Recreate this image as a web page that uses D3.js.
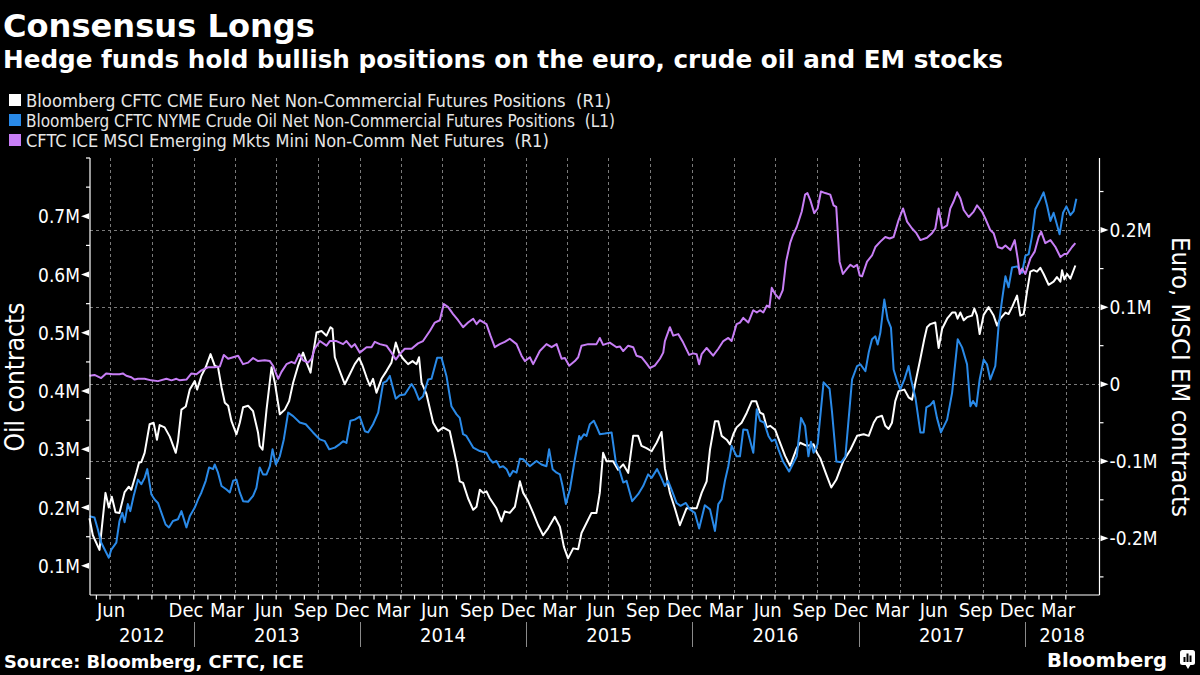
<!DOCTYPE html>
<html><head><meta charset="utf-8">
<script src="https://cdn.jsdelivr.net/npm/d3@7"></script>
<style>
html,body{margin:0;padding:0;background:#000;}
svg{display:block;}
text{white-space:pre;}
</style></head>
<body>
<svg id="chart" width="1200" height="675"></svg>
<script>
// ---------- DATA (decimal year, thousands of contracts) ----------
const euroData = [[2012.374,-174],[2012.394,-196],[2012.434,-215],[2012.470,-141],[2012.490,-160],[2012.508,-146],[2012.530,-166],[2012.554,-167],[2012.585,-140],[2012.610,-133],[2012.625,-137],[2012.655,-115],[2012.671,-102],[2012.685,-101],[2012.705,-89],[2012.735,-52],[2012.759,-50],[2012.779,-72],[2012.795,-53],[2012.825,-56],[2012.856,-68],[2012.892,-89],[2012.905,-74],[2012.926,-33],[2012.952,-29],[2012.976,-7],[2013.006,4],[2013.020,-7],[2013.046,11],[2013.072,22],[2013.101,39],[2013.126,24],[2013.146,22],[2013.167,-4],[2013.187,-24],[2013.207,-28],[2013.227,-48],[2013.257,-65],[2013.277,-50],[2013.297,-30],[2013.327,-28],[2013.357,-35],[2013.387,-63],[2013.397,-80],[2013.414,-85],[2013.438,-33],[2013.468,22],[2013.488,2],[2013.518,-39],[2013.548,-33],[2013.574,-22],[2013.598,2],[2013.628,24],[2013.658,41],[2013.679,28],[2013.703,15],[2013.718,39],[2013.739,67],[2013.769,69],[2013.799,63],[2013.823,74],[2013.835,72],[2013.849,35],[2013.879,17],[2013.909,0],[2013.939,13],[2013.969,26],[2013.995,34],[2014.016,24],[2014.040,9],[2014.060,-2],[2014.079,7],[2014.100,-11],[2014.130,7],[2014.160,17],[2014.190,28],[2014.216,54],[2014.236,41],[2014.260,33],[2014.290,26],[2014.317,30],[2014.341,26],[2014.356,35],[2014.371,2],[2014.401,-13],[2014.441,-50],[2014.471,-61],[2014.501,-56],[2014.541,-61],[2014.558,-78],[2014.582,-102],[2014.601,-126],[2014.621,-128],[2014.651,-148],[2014.682,-163],[2014.702,-159],[2014.722,-137],[2014.742,-141],[2014.762,-139],[2014.782,-148],[2014.822,-161],[2014.852,-178],[2014.872,-165],[2014.902,-167],[2014.933,-159],[2014.963,-126],[2014.983,-141],[2015.013,-152],[2015.043,-167],[2015.073,-183],[2015.103,-196],[2015.133,-187],[2015.173,-172],[2015.204,-185],[2015.228,-211],[2015.253,-226],[2015.284,-213],[2015.314,-214],[2015.334,-193],[2015.364,-180],[2015.394,-167],[2015.424,-167],[2015.444,-141],[2015.464,-89],[2015.485,-100],[2015.524,-100],[2015.554,-111],[2015.585,-104],[2015.615,-115],[2015.645,-67],[2015.675,-67],[2015.695,-80],[2015.725,-83],[2015.756,-87],[2015.786,-76],[2015.816,-62],[2015.836,-109],[2015.866,-141],[2015.896,-161],[2015.926,-183],[2015.966,-161],[2016.027,-161],[2016.057,-141],[2016.087,-126],[2016.107,-85],[2016.137,-48],[2016.157,-48],[2016.177,-67],[2016.207,-72],[2016.227,-78],[2016.247,-65],[2016.267,-56],[2016.297,-50],[2016.328,-37],[2016.358,-22],[2016.384,-22],[2016.408,-37],[2016.427,-39],[2016.448,-56],[2016.468,-54],[2016.498,-59],[2016.528,-76],[2016.558,-93],[2016.588,-106],[2016.628,-83],[2016.648,-76],[2016.689,-80],[2016.729,-78],[2016.749,-89],[2016.769,-96],[2016.805,-117],[2016.835,-134],[2016.865,-124],[2016.907,-100],[2016.950,-85],[2016.990,-67],[2017.030,-65],[2017.060,-67],[2017.090,-50],[2017.110,-43],[2017.140,-41],[2017.160,-54],[2017.180,-58],[2017.200,-50],[2017.220,-22],[2017.240,-9],[2017.275,-7],[2017.300,-17],[2017.321,-20],[2017.341,2],[2017.371,33],[2017.395,59],[2017.411,74],[2017.431,78],[2017.461,80],[2017.481,47],[2017.502,72],[2017.532,85],[2017.562,93],[2017.582,93],[2017.595,85],[2017.612,93],[2017.632,83],[2017.652,87],[2017.682,89],[2017.696,98],[2017.712,89],[2017.728,65],[2017.752,90],[2017.782,100],[2017.812,89],[2017.833,76],[2017.852,85],[2017.883,93],[2017.902,91],[2017.923,100],[2017.953,115],[2017.973,89],[2017.993,91],[2018.013,120],[2018.033,146],[2018.053,148],[2018.073,146],[2018.093,151],[2018.113,143],[2018.143,129],[2018.173,133],[2018.193,139],[2018.214,133],[2018.224,148],[2018.238,136],[2018.254,143],[2018.274,137],[2018.304,154]];

const oilData = [[2012.374,185],[2012.404,183],[2012.424,163],[2012.444,140],[2012.490,114],[2012.505,128],[2012.535,140],[2012.554,177],[2012.571,191],[2012.585,175],[2012.604,206],[2012.619,194],[2012.639,220],[2012.665,248],[2012.685,240],[2012.705,251],[2012.721,266],[2012.745,223],[2012.765,214],[2012.785,208],[2012.806,191],[2012.831,171],[2012.851,166],[2012.875,177],[2012.905,180],[2012.926,194],[2012.956,166],[2012.976,185],[2013.006,200],[2013.026,214],[2013.046,226],[2013.072,246],[2013.092,269],[2013.116,266],[2013.126,274],[2013.146,260],[2013.167,237],[2013.197,231],[2013.217,226],[2013.237,246],[2013.257,248],[2013.277,226],[2013.297,211],[2013.327,210],[2013.357,220],[2013.377,234],[2013.397,269],[2013.417,257],[2013.438,257],[2013.458,271],[2013.474,300],[2013.494,274],[2013.518,288],[2013.542,317],[2013.568,363],[2013.598,357],[2013.638,346],[2013.674,343],[2013.718,329],[2013.759,317],[2013.789,314],[2013.815,300],[2013.849,303],[2013.879,309],[2013.899,314],[2013.919,311],[2013.943,349],[2013.969,351],[2013.999,356],[2014.030,331],[2014.049,329],[2014.079,343],[2014.110,363],[2014.140,414],[2014.160,417],[2014.180,426],[2014.216,387],[2014.240,393],[2014.270,394],[2014.311,412],[2014.331,403],[2014.356,385],[2014.380,391],[2014.411,420],[2014.431,421],[2014.465,457],[2014.491,457],[2014.521,426],[2014.551,374],[2014.582,360],[2014.601,354],[2014.621,326],[2014.641,323],[2014.682,303],[2014.722,297],[2014.762,294],[2014.782,283],[2014.802,277],[2014.822,280],[2014.842,269],[2014.862,271],[2014.883,266],[2014.902,254],[2014.922,263],[2014.943,260],[2014.963,284],[2014.983,283],[2015.003,277],[2015.023,271],[2015.063,280],[2015.093,274],[2015.123,271],[2015.139,300],[2015.160,266],[2015.184,260],[2015.204,257],[2015.220,237],[2015.240,206],[2015.264,231],[2015.294,283],[2015.320,323],[2015.328,317],[2015.348,326],[2015.364,323],[2015.384,343],[2015.408,349],[2015.428,337],[2015.444,326],[2015.474,327],[2015.515,329],[2015.541,277],[2015.561,266],[2015.585,243],[2015.605,246],[2015.639,211],[2015.675,223],[2015.705,237],[2015.735,257],[2015.756,251],[2015.789,266],[2015.810,254],[2015.836,237],[2015.855,246],[2015.876,231],[2015.906,208],[2015.930,203],[2015.962,208],[2015.986,197],[2016.016,191],[2016.042,164],[2016.076,204],[2016.107,197],[2016.137,160],[2016.157,206],[2016.177,214],[2016.197,246],[2016.217,271],[2016.237,306],[2016.267,288],[2016.287,288],[2016.307,334],[2016.331,333],[2016.367,294],[2016.388,369],[2016.408,349],[2016.432,346],[2016.458,323],[2016.478,314],[2016.498,317],[2016.518,300],[2016.546,279],[2016.582,262],[2016.628,288],[2016.654,354],[2016.678,340],[2016.698,288],[2016.713,313],[2016.729,294],[2016.753,309],[2016.789,415],[2016.825,404],[2016.840,363],[2016.866,279],[2016.896,278],[2016.920,288],[2016.960,420],[2016.990,443],[2017.010,446],[2017.040,434],[2017.060,466],[2017.080,489],[2017.100,494],[2017.114,480],[2017.130,500],[2017.154,557],[2017.174,523],[2017.194,509],[2017.210,437],[2017.231,417],[2017.250,403],[2017.275,420],[2017.300,443],[2017.315,420],[2017.341,389],[2017.371,329],[2017.391,329],[2017.407,372],[2017.431,376],[2017.451,383],[2017.471,354],[2017.495,329],[2017.532,351],[2017.562,397],[2017.596,489],[2017.622,475],[2017.652,446],[2017.672,374],[2017.688,383],[2017.708,374],[2017.728,420],[2017.752,454],[2017.772,446],[2017.792,420],[2017.822,443],[2017.842,512],[2017.863,557],[2017.883,597],[2017.902,578],[2017.923,612],[2017.953,614],[2017.983,603],[2018.003,632],[2018.023,635],[2018.043,666],[2018.063,712],[2018.093,729],[2018.113,741],[2018.134,718],[2018.154,692],[2018.173,706],[2018.193,686],[2018.209,669],[2018.230,706],[2018.250,717],[2018.274,702],[2018.294,709],[2018.310,730]];

const emData = [[2012.374,11],[2012.404,12],[2012.444,8],[2012.474,14],[2012.514,13],[2012.554,13],[2012.574,14],[2012.595,11],[2012.625,9],[2012.645,6],[2012.665,7],[2012.705,7],[2012.745,5],[2012.785,4],[2012.836,7],[2012.866,5],[2012.896,7],[2012.916,5],[2012.956,6],[2012.986,14],[2013.016,13],[2013.046,18],[2013.086,22],[2013.126,22],[2013.157,23],[2013.181,38],[2013.207,33],[2013.237,35],[2013.267,37],[2013.297,26],[2013.327,28],[2013.357,34],[2013.387,30],[2013.427,31],[2013.458,30],[2013.477,24],[2013.508,7],[2013.528,16],[2013.558,26],[2013.588,29],[2013.608,27],[2013.634,39],[2013.658,31],[2013.688,28],[2013.709,33],[2013.728,46],[2013.759,56],[2013.799,50],[2013.819,56],[2013.859,56],[2013.899,52],[2013.919,56],[2013.949,48],[2013.969,52],[2013.999,41],[2014.040,48],[2014.070,48],[2014.090,55],[2014.120,52],[2014.160,50],[2014.190,41],[2014.216,32],[2014.240,39],[2014.270,46],[2014.311,46],[2014.350,53],[2014.380,56],[2014.421,69],[2014.451,80],[2014.481,83],[2014.505,104],[2014.531,100],[2014.561,91],[2014.591,83],[2014.621,74],[2014.651,80],[2014.682,85],[2014.702,78],[2014.722,83],[2014.762,78],[2014.786,63],[2014.812,48],[2014.842,52],[2014.872,55],[2014.902,59],[2014.943,52],[2014.973,37],[2014.993,30],[2015.023,35],[2015.043,26],[2015.083,43],[2015.123,52],[2015.154,48],[2015.184,52],[2015.214,33],[2015.234,34],[2015.260,24],[2015.294,30],[2015.314,35],[2015.334,50],[2015.374,52],[2015.424,52],[2015.444,60],[2015.464,51],[2015.504,54],[2015.545,48],[2015.565,49],[2015.585,43],[2015.615,50],[2015.645,48],[2015.665,37],[2015.695,35],[2015.725,27],[2015.745,21],[2015.775,24],[2015.806,33],[2015.826,41],[2015.836,56],[2015.866,74],[2015.886,63],[2015.916,65],[2015.946,54],[2015.982,38],[2016.006,40],[2016.027,39],[2016.042,26],[2016.057,39],[2016.087,47],[2016.126,37],[2016.157,46],[2016.187,56],[2016.217,60],[2016.237,56],[2016.267,78],[2016.287,80],[2016.307,86],[2016.337,80],[2016.367,96],[2016.388,93],[2016.408,96],[2016.427,93],[2016.448,102],[2016.464,100],[2016.478,125],[2016.498,117],[2016.522,111],[2016.544,122],[2016.564,159],[2016.588,183],[2016.604,193],[2016.628,204],[2016.658,224],[2016.678,246],[2016.692,248],[2016.709,239],[2016.733,222],[2016.753,228],[2016.773,250],[2016.799,248],[2016.829,246],[2016.849,232],[2016.865,230],[2016.885,159],[2016.905,143],[2016.930,150],[2016.950,155],[2016.969,152],[2016.990,155],[2017.006,141],[2017.020,140],[2017.050,159],[2017.080,167],[2017.100,178],[2017.130,185],[2017.160,191],[2017.186,189],[2017.210,191],[2017.240,213],[2017.267,228],[2017.291,211],[2017.321,202],[2017.347,196],[2017.371,187],[2017.411,190],[2017.441,196],[2017.461,202],[2017.481,228],[2017.502,202],[2017.532,206],[2017.551,228],[2017.571,237],[2017.592,249],[2017.612,241],[2017.632,226],[2017.662,217],[2017.692,224],[2017.712,232],[2017.742,224],[2017.762,215],[2017.792,200],[2017.812,196],[2017.837,178],[2017.863,176],[2017.883,180],[2017.913,174],[2017.939,187],[2017.957,163],[2017.969,143],[2017.983,150],[2018.003,143],[2018.033,163],[2018.059,172],[2018.083,191],[2018.098,198],[2018.123,183],[2018.154,187],[2018.184,178],[2018.214,165],[2018.238,169],[2018.254,169],[2018.284,178],[2018.304,183]];

const seriesNames = [
  "Bloomberg CFTC CME Euro Net Non-Commercial Futures Positions  (R1)",
  "Bloomberg CFTC NYME Crude Oil Net Non-Commercial Futures Positions  (L1)",
  "CFTC ICE MSCI Emerging Mkts Mini Non-Comm Net Futures  (R1)"
];
const seriesColors = ["#ffffff", "#2a8ae8", "#c77ef5"];
const leftTicks = [100, 200, 300, 400, 500, 600, 700];
const leftTickLabels = ["0.1M","0.2M","0.3M","0.4M","0.5M","0.6M","0.7M"];
const leftMinor = [150, 250, 350, 450, 550, 650, 750, 800];
const rightTicks = [-200, -100, 0, 100, 200];
const rightTickLabels = ["-0.2M","-0.1M","0","0.1M","0.2M"];
const rightMinor = [-250, -150, -50, 50, 150, 250];
const monthNames = ["Jan","Feb","Mar","Apr","May","Jun","Jul","Aug","Sep","Oct","Nov","Dec"];
const titleText = "Consensus Longs";
const subtitleText = "Hedge funds hold bullish positions on the euro, crude oil and EM stocks";
const sourceText = "Source: Bloomberg, CFTC, ICE";
const leftTitle = "Oil contracts";
const rightTitle = "Euro, MSCI EM contracts";
const xStart = new Date(2012, 4, 18), xEnd = new Date(2018, 5, 14), dataEnd = new Date(2018, 3, 25);

// ---------- helpers ----------
function yrToDate(y){const yr=Math.floor(y);const s=new Date(yr,0,1),e=new Date(yr+1,0,1);return new Date(+s+(y-yr)*(e-s));}
const FONT = "'DejaVu Sans Condensed','DejaVu Sans',sans-serif";
const svg = d3.select("#chart");
svg.append("rect").attr("width",1200).attr("height",675).attr("fill","#000");
function fit(sel, w){const l=sel.node().getComputedTextLength();const fs=parseFloat(sel.attr("font-size"));sel.attr("font-size",(fs*w/l).toFixed(2));return sel;}

const L=90, R=1099.5, T=158, B=595;
const x = d3.scaleTime().domain([xStart,xEnd]).range([L,R]);
const yL = d3.scaleLinear().domain([50,800]).range([B,T]);
const yR = d3.scaleLinear().domain([-273.5,293.5]).range([B,T]);

// ---------- titles ----------
fit(svg.append("text").attr("x",3).attr("y",36.5).attr("fill","#fff").attr("font-family","'DejaVu Sans',sans-serif").attr("font-weight","bold").attr("font-size",33).text(titleText),312);
fit(svg.append("text").attr("x",3).attr("y",68).attr("fill","#fff").attr("font-family","'DejaVu Sans',sans-serif").attr("font-weight","bold").attr("font-size",25).text(subtitleText),1000);

// legend
const legW=[585,589,523];
seriesNames.forEach((n,i)=>{
  const cy = 100 + i*20;
  svg.append("rect").attr("x",9).attr("y",cy-6).attr("width",12).attr("height",12).attr("fill",seriesColors[i]);
  fit(svg.append("text").attr("x",26).attr("y",cy+6.5).attr("fill","#e6e6e6").attr("font-family",FONT).attr("font-size",17).text(n),legW[i]);
});

// ---------- grid ----------
const grid = svg.append("g").attr("stroke","#7a7a7a").attr("stroke-width",1).attr("stroke-dasharray","3,3");
rightTicks.forEach(v=>grid.append("line").attr("x1",L).attr("x2",R).attr("y1",Math.round(yR(v))+0.5).attr("y2",Math.round(yR(v))+0.5));
const quarters = d3.timeMonth.every(3).range(new Date(2012,6,1), dataEnd).filter(d=>d.getMonth()%3===0);
quarters.forEach(d=>{const xx=Math.round(x(d))+0.5;grid.append("line").attr("x1",xx).attr("x2",xx).attr("y1",T).attr("y2",B);});

// ---------- lines ----------
const lineL = d3.line().x(d=>x(yrToDate(d[0]))).y(d=>yL(d[1]));
const lineR = d3.line().x(d=>x(yrToDate(d[0]))).y(d=>yR(d[1]));
svg.append("path").datum(euroData).attr("d",lineR).attr("fill","none").attr("stroke",seriesColors[0]).attr("stroke-width",2).attr("stroke-linejoin","round");
svg.append("path").datum(oilData).attr("d",lineL).attr("fill","none").attr("stroke",seriesColors[1]).attr("stroke-width",2).attr("stroke-linejoin","round");
svg.append("path").datum(emData).attr("d",lineR).attr("fill","none").attr("stroke",seriesColors[2]).attr("stroke-width",2).attr("stroke-linejoin","round");

// ---------- axes ----------
const ax = svg.append("g").attr("stroke","#fff").attr("stroke-width",1.2);
ax.append("line").attr("x1",L).attr("x2",L).attr("y1",T).attr("y2",B);
ax.append("line").attr("x1",R).attr("x2",R).attr("y1",T).attr("y2",B);
ax.append("line").attr("x1",L).attr("x2",R).attr("y1",B).attr("y2",B);
leftMinor.forEach(v=>ax.append("line").attr("x1",L-4).attr("x2",L).attr("y1",yL(v)).attr("y2",yL(v)));
rightMinor.forEach(v=>ax.append("line").attr("x1",R).attr("x2",R+4).attr("y1",yR(v)).attr("y2",yR(v)));
leftTicks.forEach((v,i)=>{
  const yy=yL(v);
  svg.append("path").attr("d",`M${L-1},${yy-3}L${L-9},${yy}L${L-1},${yy+3}Z`).attr("fill","#fff");
  svg.append("text").attr("x",L-10).attr("y",yy+7).attr("text-anchor","end").attr("fill","#fff").attr("font-family",FONT).attr("font-size",19).text(leftTickLabels[i]);
});
rightTicks.forEach((v,i)=>{
  const yy=yR(v);
  svg.append("path").attr("d",`M${R+1},${yy-3}L${R+9},${yy}L${R+1},${yy+3}Z`).attr("fill","#fff");
  svg.append("text").attr("x",R+10).attr("y",yy+7).attr("fill","#fff").attr("font-family",FONT).attr("font-size",19).text(rightTickLabels[i]);
});
// monthly ticks
d3.timeMonth.range(new Date(2012,5,1), dataEnd).forEach(d=>ax.append("line").attr("x1",x(d)).attr("x2",x(d)).attr("y1",B).attr("y2",B+4.5));

// month labels (quarter months, centred mid-month; first clamped inside, overlapping ones dropped)
let prevRight=-1e9;
d3.timeMonth.range(new Date(2012,0,1), xEnd).filter(d=>d.getMonth()%3===2).forEach(d=>{
  const mid = new Date(d.getFullYear(), d.getMonth(), 15);
  if (mid < xStart || mid > xEnd) return;
  const t = svg.append("text").attr("y",616.5).attr("text-anchor","middle").attr("fill","#fff").attr("font-family",FONT).attr("font-size",20).text(monthNames[d.getMonth()]);
  const w = t.node().getComputedTextLength();
  let cx = x(mid);
  if (cx - w/2 < L + 7) cx = L + 7 + w/2;
  if (cx + w/2 > R) { t.remove(); return; }
  if (cx - w/2 < prevRight + 4) { t.remove(); return; }
  t.attr("x",cx); prevRight = cx + w/2;
});
// year separators and labels
for (let yr=2012; yr<=2018; yr++){
  const s = new Date(yr,0,1), e = new Date(yr+1,0,1);
  if (s > xStart) svg.append("line").attr("x1",Math.round(x(s))+0.5).attr("x2",Math.round(x(s))+0.5).attr("y1",622).attr("y2",647).attr("stroke","#8a8a8a").attr("stroke-width",1);
  const a = x(s < xStart ? xStart : s), b = x(e > xEnd ? xEnd : e);
  svg.append("text").attr("x",(a+b)/2).attr("y",641.5).attr("text-anchor","middle").attr("fill","#fff").attr("font-family",FONT).attr("font-size",20).text(String(yr));
}

// axis titles
fit(svg.append("text").attr("transform","translate(24,377) rotate(-90)").attr("text-anchor","middle").attr("fill","#fff").attr("font-family",FONT).attr("font-size",22).text(leftTitle),149);
fit(svg.append("text").attr("transform","translate(1172,377) rotate(90)").attr("text-anchor","middle").attr("fill","#fff").attr("font-family",FONT).attr("font-size",22).text(rightTitle),280);

// source + logo
fit(svg.append("text").attr("x",4).attr("y",667.5).attr("fill","#fff").attr("font-family","'DejaVu Sans',sans-serif").attr("font-weight","bold").attr("font-size",17).text(sourceText),300);
fit(svg.append("text").attr("x",1047).attr("y",666.5).attr("fill","#fff").attr("font-family","'DejaVu Sans',sans-serif").attr("font-weight","bold").attr("font-size",22).text("Bloomberg"),120);
const lg = svg.append("g");
lg.append("rect").attr("x",1180).attr("y",650).attr("width",15).attr("height",15).attr("rx",2.5).attr("fill","#fff");
lg.append("path").attr("d","M1185,664L1188,669L1191,664Z").attr("fill","#fff");
[[1183.5,657,2,5],[1186.5,653.5,2,8.5],[1189.5,655.5,2,6.5]].forEach(b=>lg.append("rect").attr("x",b[0]).attr("y",b[1]).attr("width",b[2]).attr("height",b[3]).attr("fill","#000"));
</script>
</body></html>
